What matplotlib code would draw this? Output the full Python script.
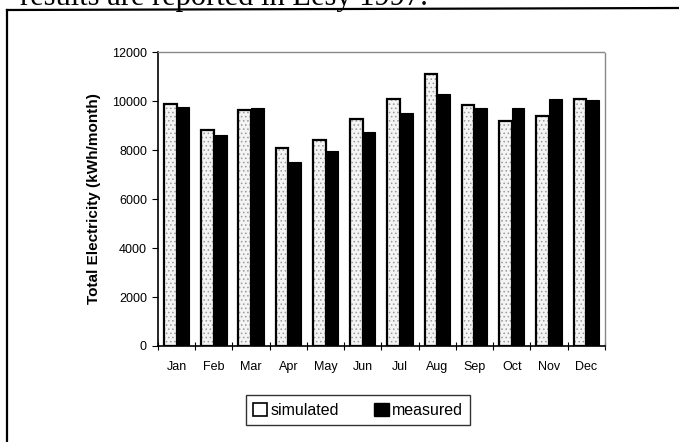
import matplotlib
matplotlib.use('Agg')
import matplotlib.pyplot as plt
import numpy as np
from matplotlib.patches import Patch
from matplotlib.lines import Line2D

# monthly electricity, kWh/month
months = ['Jan', 'Feb', 'Mar', 'Apr', 'May', 'Jun',
          'Jul', 'Aug', 'Sep', 'Oct', 'Nov', 'Dec']
simulated = [9900, 8800, 9650, 8100, 8400, 9250,
             10100, 11100, 9850, 9200, 9400, 10100]
measured = [9750, 8600, 9700, 7500, 7950, 8750,
            9500, 10300, 9700, 9700, 10100, 10050]
y_ticks = [0, 2000, 4000, 6000, 8000, 10000, 12000]

plt.rcParams['font.family'] = ['Liberation Sans', 'DejaVu Sans']
plt.rcParams['hatch.color'] = '#9a9a9a'
plt.rcParams['hatch.linewidth'] = 0.6

fig = plt.figure(figsize=(6.79, 4.42), dpi=100)
ax = fig.add_axes([0.2327, 0.2172, 0.658, 0.665])

x = np.arange(len(months))
w = 0.34
# simulated: stippled fill with black outline
ax.bar(x - w / 2, simulated, w, color='#f4f4f4', hatch='....',
       edgecolor='#9a9a9a', linewidth=0, zorder=2)
ax.bar(x - w / 2, simulated, w, facecolor='none', edgecolor='black',
       linewidth=1.6, zorder=3)
ax.bar(x + w / 2, measured, w, color='black', edgecolor='black',
       linewidth=0.8, zorder=3)

ax.set_xlim(-0.5, len(months) - 0.5)
ax.set_ylim(0, 12000)
ax.set_yticks(y_ticks)
ax.set_yticklabels([str(t) for t in y_ticks], fontsize=9)
ax.set_xticks(x)
ax.set_xticklabels(months, fontsize=9)
ax.tick_params(axis='x', which='major', length=0, pad=11)
ax.set_xticks(np.arange(len(months) + 1) - 0.5, minor=True)
ax.tick_params(axis='x', which='minor', direction='inout', length=6, width=0.8)
ax.tick_params(axis='y', direction='out', length=4, width=0.8, pad=4)
ax.set_ylabel('Total Electricity (kWh/month)', fontsize=11,
              fontweight='bold', labelpad=8)

for side in ['top', 'right']:
    ax.spines[side].set_color('#888888')
    ax.spines[side].set_linestyle((0, (1, 1)))
    ax.spines[side].set_linewidth(1.0)
ax.spines['left'].set_linewidth(1.2)
ax.spines['bottom'].set_linewidth(1.2)

handles = [Patch(facecolor='white', edgecolor='black', linewidth=1.2),
           Patch(facecolor='black', edgecolor='black')]
leg = fig.legend(handles, ['simulated', 'measured'], loc='center',
                 bbox_to_anchor=(0.527, 0.072), ncol=2, fontsize=11.5,
                 frameon=True, fancybox=False, edgecolor='black',
                 handlelength=0.9, handleheight=0.9, handletextpad=0.2,
                 columnspacing=2.2, borderpad=0.45)
leg.get_frame().set_linewidth(1.0)

# outer frame of the scanned figure and clipped caption above it
fig.add_artist(Line2D([7 / 679, 7 / 679], [0, 1 - 10 / 442],
                      color='black', linewidth=1.6))
fig.add_artist(Line2D([7 / 679, 1], [1 - 10 / 442, 1 - 8 / 442],
                      color='black', linewidth=1.6))
fig.text(20 / 679, 1 - 5 / 442, 'results are reported in Lesy 1997.',
         fontsize=22, family='Liberation Serif', va='baseline', ha='left')

fig.savefig('out.png', dpi=100)
